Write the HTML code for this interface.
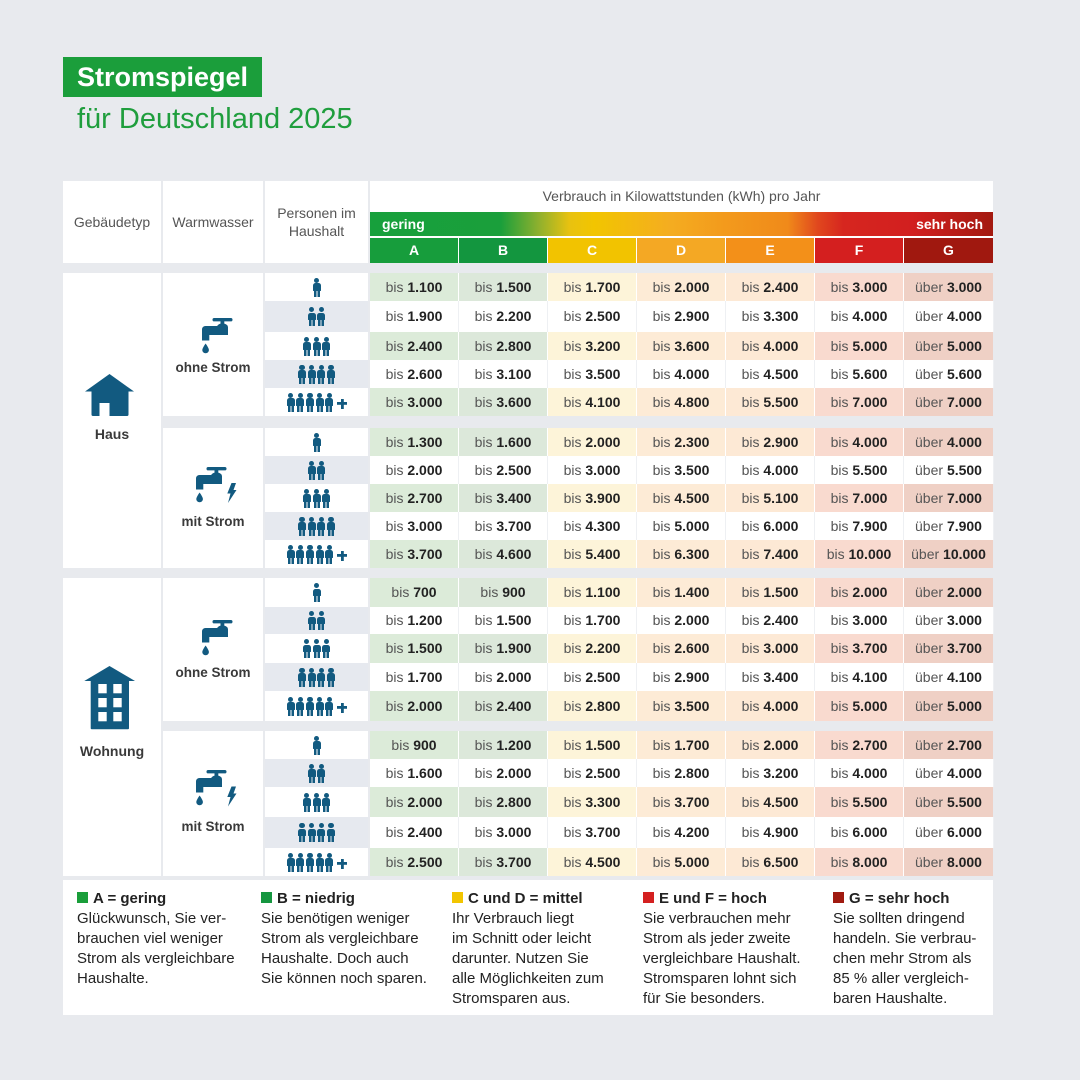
<!DOCTYPE html>
<html lang="de">
<head>
<meta charset="utf-8">
<title>Stromspiegel für Deutschland 2025</title>
<style>
*{box-sizing:border-box}
body{margin:0;width:1080px;height:1080px;background:#e8eaee;position:relative;overflow:hidden;font-family:"Liberation Sans",Arial,sans-serif;}
.a{position:absolute}
.w{background:#fff}
.hd{color:#555;font-size:14px;display:flex;align-items:center;justify-content:center;text-align:center;line-height:18px}
.lt{display:flex;width:623px}
.lt div{width:88px;margin-right:1px;height:25px;line-height:25px;text-align:center;color:#fff;font-weight:bold;font-size:14px}
.lt div:last-child{margin-right:0;width:89px}
.pr{left:265px;width:103px;display:flex;justify-content:center;align-items:center}
.pr.g{background:#e6e9ef}
.pr.wt{background:#fff}
.p{width:8px;height:19px;position:relative;margin:0 0.85px;background:linear-gradient(90deg,transparent 1px,#125a80 1px,#125a80 3.7px,transparent 3.7px,transparent 4.3px,#125a80 4.3px,#125a80 7px,transparent 7px) 0 12px/8px 7px no-repeat}
.p:before{content:"";position:absolute;left:1.4px;top:0;width:5.2px;height:5.2px;border-radius:50%;background:#125a80}
.p:after{content:"";position:absolute;left:0;top:5.8px;width:8px;height:7.4px;border-radius:2.5px 2.5px 0.5px 0.5px;background:#125a80}
.pl{width:10px;height:10px;margin-left:3px;margin-top:3px;background:linear-gradient(#125a80,#125a80) center/10px 2.8px no-repeat,linear-gradient(#125a80,#125a80) center/2.8px 10px no-repeat}
.r{position:absolute;left:370px;width:623px;display:flex;background:#fff}
.r div{width:88px;margin-right:1px;height:100%;text-align:center;font-size:14px;color:#222;white-space:nowrap}
.r div:last-child{margin-right:0;width:89px}
.r:not(.t) div{box-shadow:1px 0 0 #eef0f3}
.r span{color:#555}
.r b{color:#222}
.t div:nth-child(1){background:#dcebd9}
.t div:nth-child(2){background:#dce8da}
.t div:nth-child(3){background:#fdf4d9}
.t div:nth-child(4){background:#fdebd6}
.t div:nth-child(5){background:#fde9d5}
.t div:nth-child(6){background:#f9dacf}
.t div:nth-child(7){background:#efd0c5}
.lbl{font-weight:bold;font-size:13.5px;color:#3a3a3a;text-align:center;line-height:20px;height:20px}
.lg{top:889px;font-size:15px;line-height:20px;color:#222;white-space:nowrap}
.sq{display:inline-block;width:11px;height:11px;margin-right:5px}
</style>
</head>
<body>

<!-- Title -->
<div class="a" style="left:63px;top:57px;width:199px;height:40px;background:#1b9e3b;color:#fff;font-weight:bold;font-size:27px;line-height:40px;padding-left:14px;white-space:nowrap">Stromspiegel</div>
<div class="a" style="left:77px;top:102px;font-size:29px;line-height:34px;color:#1f9e3d;white-space:nowrap">für Deutschland 2025</div>

<!-- Header -->
<div class="a w hd" style="left:63px;top:181px;width:98px;height:82px">Gebäudetyp</div>
<div class="a w hd" style="left:163px;top:181px;width:100px;height:82px">Warmwasser</div>
<div class="a w hd" style="left:265px;top:181px;width:103px;height:82px">Personen im<br>Haushalt</div>
<div class="a w" style="left:370px;top:181px;width:623px;height:82px"></div>
<div class="a hd" style="left:370px;top:181px;width:623px;height:30px;line-height:30px">Verbrauch in Kilowattstunden (kWh) pro Jahr</div>
<div class="a" style="left:370px;top:212px;width:623px;height:24px;background:linear-gradient(90deg,#17a03c 0%,#1a9f3b 21%,#8db02e 27%,#e8c210 32%,#f2c500 36%,#f4ad20 48%,#f39a1c 57%,#f08a1a 67%,#e0461e 72%,#d6261f 76%,#d21f1f 87%,#a31a10 100%)"></div>
<div class="a" style="left:382px;top:212px;height:24px;line-height:24px;color:#fff;font-weight:bold;font-size:14px">gering</div>
<div class="a" style="left:880px;width:103px;top:212px;height:24px;line-height:24px;color:#fff;font-weight:bold;font-size:14px;text-align:right">sehr hoch</div>
<div class="a lt" style="left:370px;top:238px">
<div style="background:#179d3c">A</div><div style="background:#13963f">B</div><div style="background:#f2c300">C</div><div style="background:#f4a824">D</div><div style="background:#f39019">E</div><div style="background:#d41f1f">F</div><div style="background:#a0180f">G</div>
</div>

<!-- Gebäudetyp cells -->
<div class="a w" style="left:63px;top:273px;width:98px;height:295px"></div>
<div class="a w" style="left:63px;top:578px;width:98px;height:298px"></div>
<!-- Warmwasser cells -->
<div class="a w" style="left:163px;top:273px;width:100px;height:143px"></div>
<div class="a w" style="left:163px;top:428px;width:100px;height:140px"></div>
<div class="a w" style="left:163px;top:578px;width:100px;height:143px"></div>
<div class="a w" style="left:163px;top:731px;width:100px;height:145px"></div>

<!-- House icon -->
<svg class="a" style="left:80px;top:370px" width="60" height="50" viewBox="80 370 60 50">
<polygon points="85,391.5 109.5,374 134,391.5" fill="#125a80"/>
<rect x="91.5" y="388" width="37" height="28" rx="1.5" fill="#125a80"/>
<rect x="99.5" y="403" width="10" height="13" fill="#fff"/>
</svg>
<div class="a lbl" style="left:63px;top:424px;width:98px;font-size:14px">Haus</div>

<!-- Building icon -->
<svg class="a" style="left:80px;top:662px" width="60" height="70" viewBox="80 662 60 70">
<polygon points="84.3,681 109.5,666 135,681" fill="#125a80"/>
<rect x="90.7" y="678" width="38.3" height="51.3" rx="1" fill="#125a80"/>
<rect x="98.3" y="684" width="8.4" height="9.3" fill="#fff"/>
<rect x="113.3" y="684" width="8.4" height="9.3" fill="#fff"/>
<rect x="98.3" y="698" width="8.4" height="9.3" fill="#fff"/>
<rect x="113.3" y="698" width="8.4" height="9.3" fill="#fff"/>
<rect x="98.3" y="712" width="8.4" height="9.3" fill="#fff"/>
<rect x="113.3" y="712" width="8.4" height="9.3" fill="#fff"/>
</svg>
<div class="a lbl" style="left:63px;top:741px;width:98px;font-size:14px">Wohnung</div>

<!-- Faucets -->
<svg class="a" style="left:201.7px;top:318.3px" width="32" height="36" viewBox="0 0 32 36" fill="#125a80">
<rect x="10.5" y="0" width="20" height="3.4" rx="1.7"/><rect x="18.5" y="2" width="3.8" height="4.5"/>
<path d="M15,17 L15,9.5 C15,7 17,5.5 20.4,5.5 C23.8,5.5 26,7 26,9.5 L26,17 Z"/>
<path d="M0,22.5 L0,11.5 C0,9.5 1.5,8 3.5,8 L16,8 L16,17 L7.3,17 L7.3,22.5 Z"/>
<path d="M3.6,25.5 C3.6,25.5 0.3,30 0.3,32 C0.3,33.9 1.8,35.2 3.6,35.2 C5.4,35.2 6.9,33.9 6.9,32 C6.9,30 3.6,25.5 3.6,25.5 Z"/>
</svg>
<div class="a lbl" style="left:163px;top:358px;width:100px">ohne Strom</div>

<svg class="a" style="left:196px;top:467px" width="42" height="37" viewBox="0 0 42 37" fill="#125a80">
<rect x="10.5" y="0" width="20" height="3.4" rx="1.7"/><rect x="18.5" y="2" width="3.8" height="4.5"/>
<path d="M15,17 L15,9.5 C15,7 17,5.5 20.4,5.5 C23.8,5.5 26,7 26,9.5 L26,17 Z"/>
<path d="M0,22.5 L0,11.5 C0,9.5 1.5,8 3.5,8 L16,8 L16,17 L7.3,17 L7.3,22.5 Z"/>
<path d="M3.6,25.5 C3.6,25.5 0.3,30 0.3,32 C0.3,33.9 1.8,35.2 3.6,35.2 C5.4,35.2 6.9,33.9 6.9,32 C6.9,30 3.6,25.5 3.6,25.5 Z"/>
<path transform="translate(30.5,16)" d="M5,0 L9.5,0 L7,7 L10,7 L1.5,20 L4,10.5 L0.8,10.5 Z"/>
</svg>
<div class="a lbl" style="left:163px;top:512px;width:100px">mit Strom</div>

<svg class="a" style="left:201.7px;top:620px" width="32" height="36" viewBox="0 0 32 36" fill="#125a80">
<rect x="10.5" y="0" width="20" height="3.4" rx="1.7"/><rect x="18.5" y="2" width="3.8" height="4.5"/>
<path d="M15,17 L15,9.5 C15,7 17,5.5 20.4,5.5 C23.8,5.5 26,7 26,9.5 L26,17 Z"/>
<path d="M0,22.5 L0,11.5 C0,9.5 1.5,8 3.5,8 L16,8 L16,17 L7.3,17 L7.3,22.5 Z"/>
<path d="M3.6,25.5 C3.6,25.5 0.3,30 0.3,32 C0.3,33.9 1.8,35.2 3.6,35.2 C5.4,35.2 6.9,33.9 6.9,32 C6.9,30 3.6,25.5 3.6,25.5 Z"/>
</svg>
<div class="a lbl" style="left:163px;top:663px;width:100px">ohne Strom</div>

<svg class="a" style="left:196px;top:770px" width="42" height="37" viewBox="0 0 42 37" fill="#125a80">
<rect x="10.5" y="0" width="20" height="3.4" rx="1.7"/><rect x="18.5" y="2" width="3.8" height="4.5"/>
<path d="M15,17 L15,9.5 C15,7 17,5.5 20.4,5.5 C23.8,5.5 26,7 26,9.5 L26,17 Z"/>
<path d="M0,22.5 L0,11.5 C0,9.5 1.5,8 3.5,8 L16,8 L16,17 L7.3,17 L7.3,22.5 Z"/>
<path d="M3.6,25.5 C3.6,25.5 0.3,30 0.3,32 C0.3,33.9 1.8,35.2 3.6,35.2 C5.4,35.2 6.9,33.9 6.9,32 C6.9,30 3.6,25.5 3.6,25.5 Z"/>
<path transform="translate(30.5,16.5)" d="M5,0 L9.5,0 L7,7 L10,7 L1.5,20 L4,10.5 L0.8,10.5 Z"/>
</svg>
<div class="a lbl" style="left:163px;top:817px;width:100px">mit Strom</div>

<!-- Persons: Haus ohne -->
<div class="a pr wt" style="top:273px;height:28px"><i class="p"></i></div>
<div class="a pr g" style="top:301px;height:31px"><i class="p"></i><i class="p"></i></div>
<div class="a pr wt" style="top:332px;height:28px"><i class="p"></i><i class="p"></i><i class="p"></i></div>
<div class="a pr g" style="top:360px;height:28px"><i class="p"></i><i class="p"></i><i class="p"></i><i class="p"></i></div>
<div class="a pr wt" style="top:388px;height:28px"><i class="p"></i><i class="p"></i><i class="p"></i><i class="p"></i><i class="p"></i><i class="pl"></i></div>
<!-- Haus mit -->
<div class="a pr wt" style="top:428px;height:28px"><i class="p"></i></div>
<div class="a pr g" style="top:456px;height:28px"><i class="p"></i><i class="p"></i></div>
<div class="a pr wt" style="top:484px;height:28px"><i class="p"></i><i class="p"></i><i class="p"></i></div>
<div class="a pr g" style="top:512px;height:28px"><i class="p"></i><i class="p"></i><i class="p"></i><i class="p"></i></div>
<div class="a pr wt" style="top:540px;height:28px"><i class="p"></i><i class="p"></i><i class="p"></i><i class="p"></i><i class="p"></i><i class="pl"></i></div>
<!-- Wohnung ohne -->
<div class="a pr wt" style="top:578px;height:29px"><i class="p"></i></div>
<div class="a pr g" style="top:607px;height:27px"><i class="p"></i><i class="p"></i></div>
<div class="a pr wt" style="top:634px;height:29px"><i class="p"></i><i class="p"></i><i class="p"></i></div>
<div class="a pr g" style="top:663px;height:28px"><i class="p"></i><i class="p"></i><i class="p"></i><i class="p"></i></div>
<div class="a pr wt" style="top:691px;height:30px"><i class="p"></i><i class="p"></i><i class="p"></i><i class="p"></i><i class="p"></i><i class="pl"></i></div>
<!-- Wohnung mit -->
<div class="a pr wt" style="top:731px;height:28px"><i class="p"></i></div>
<div class="a pr g" style="top:759px;height:28px"><i class="p"></i><i class="p"></i></div>
<div class="a pr wt" style="top:787px;height:30px"><i class="p"></i><i class="p"></i><i class="p"></i></div>
<div class="a pr g" style="top:817px;height:31px"><i class="p"></i><i class="p"></i><i class="p"></i><i class="p"></i></div>
<div class="a pr wt" style="top:848px;height:28px"><i class="p"></i><i class="p"></i><i class="p"></i><i class="p"></i><i class="p"></i><i class="pl"></i></div>

<!-- Values: Haus ohne -->
<div class="r t" style="top:273px;height:28px;line-height:28px"><div><span>bis</span> <b>1.100</b></div><div><span>bis</span> <b>1.500</b></div><div><span>bis</span> <b>1.700</b></div><div><span>bis</span> <b>2.000</b></div><div><span>bis</span> <b>2.400</b></div><div><span>bis</span> <b>3.000</b></div><div><span>über</span> <b>3.000</b></div></div>
<div class="r" style="top:301px;height:31px;line-height:31px"><div><span>bis</span> <b>1.900</b></div><div><span>bis</span> <b>2.200</b></div><div><span>bis</span> <b>2.500</b></div><div><span>bis</span> <b>2.900</b></div><div><span>bis</span> <b>3.300</b></div><div><span>bis</span> <b>4.000</b></div><div><span>über</span> <b>4.000</b></div></div>
<div class="r t" style="top:332px;height:28px;line-height:28px"><div><span>bis</span> <b>2.400</b></div><div><span>bis</span> <b>2.800</b></div><div><span>bis</span> <b>3.200</b></div><div><span>bis</span> <b>3.600</b></div><div><span>bis</span> <b>4.000</b></div><div><span>bis</span> <b>5.000</b></div><div><span>über</span> <b>5.000</b></div></div>
<div class="r" style="top:360px;height:28px;line-height:28px"><div><span>bis</span> <b>2.600</b></div><div><span>bis</span> <b>3.100</b></div><div><span>bis</span> <b>3.500</b></div><div><span>bis</span> <b>4.000</b></div><div><span>bis</span> <b>4.500</b></div><div><span>bis</span> <b>5.600</b></div><div><span>über</span> <b>5.600</b></div></div>
<div class="r t" style="top:388px;height:28px;line-height:28px"><div><span>bis</span> <b>3.000</b></div><div><span>bis</span> <b>3.600</b></div><div><span>bis</span> <b>4.100</b></div><div><span>bis</span> <b>4.800</b></div><div><span>bis</span> <b>5.500</b></div><div><span>bis</span> <b>7.000</b></div><div><span>über</span> <b>7.000</b></div></div>
<!-- Haus mit -->
<div class="r t" style="top:428px;height:28px;line-height:28px"><div><span>bis</span> <b>1.300</b></div><div><span>bis</span> <b>1.600</b></div><div><span>bis</span> <b>2.000</b></div><div><span>bis</span> <b>2.300</b></div><div><span>bis</span> <b>2.900</b></div><div><span>bis</span> <b>4.000</b></div><div><span>über</span> <b>4.000</b></div></div>
<div class="r" style="top:456px;height:28px;line-height:28px"><div><span>bis</span> <b>2.000</b></div><div><span>bis</span> <b>2.500</b></div><div><span>bis</span> <b>3.000</b></div><div><span>bis</span> <b>3.500</b></div><div><span>bis</span> <b>4.000</b></div><div><span>bis</span> <b>5.500</b></div><div><span>über</span> <b>5.500</b></div></div>
<div class="r t" style="top:484px;height:28px;line-height:28px"><div><span>bis</span> <b>2.700</b></div><div><span>bis</span> <b>3.400</b></div><div><span>bis</span> <b>3.900</b></div><div><span>bis</span> <b>4.500</b></div><div><span>bis</span> <b>5.100</b></div><div><span>bis</span> <b>7.000</b></div><div><span>über</span> <b>7.000</b></div></div>
<div class="r" style="top:512px;height:28px;line-height:28px"><div><span>bis</span> <b>3.000</b></div><div><span>bis</span> <b>3.700</b></div><div><span>bis</span> <b>4.300</b></div><div><span>bis</span> <b>5.000</b></div><div><span>bis</span> <b>6.000</b></div><div><span>bis</span> <b>7.900</b></div><div><span>über</span> <b>7.900</b></div></div>
<div class="r t" style="top:540px;height:28px;line-height:28px"><div><span>bis</span> <b>3.700</b></div><div><span>bis</span> <b>4.600</b></div><div><span>bis</span> <b>5.400</b></div><div><span>bis</span> <b>6.300</b></div><div><span>bis</span> <b>7.400</b></div><div><span>bis</span> <b>10.000</b></div><div><span>über</span> <b>10.000</b></div></div>
<!-- Wohnung ohne -->
<div class="r t" style="top:578px;height:29px;line-height:29px"><div><span>bis</span> <b>700</b></div><div><span>bis</span> <b>900</b></div><div><span>bis</span> <b>1.100</b></div><div><span>bis</span> <b>1.400</b></div><div><span>bis</span> <b>1.500</b></div><div><span>bis</span> <b>2.000</b></div><div><span>über</span> <b>2.000</b></div></div>
<div class="r" style="top:607px;height:27px;line-height:27px"><div><span>bis</span> <b>1.200</b></div><div><span>bis</span> <b>1.500</b></div><div><span>bis</span> <b>1.700</b></div><div><span>bis</span> <b>2.000</b></div><div><span>bis</span> <b>2.400</b></div><div><span>bis</span> <b>3.000</b></div><div><span>über</span> <b>3.000</b></div></div>
<div class="r t" style="top:634px;height:29px;line-height:29px"><div><span>bis</span> <b>1.500</b></div><div><span>bis</span> <b>1.900</b></div><div><span>bis</span> <b>2.200</b></div><div><span>bis</span> <b>2.600</b></div><div><span>bis</span> <b>3.000</b></div><div><span>bis</span> <b>3.700</b></div><div><span>über</span> <b>3.700</b></div></div>
<div class="r" style="top:663px;height:28px;line-height:28px"><div><span>bis</span> <b>1.700</b></div><div><span>bis</span> <b>2.000</b></div><div><span>bis</span> <b>2.500</b></div><div><span>bis</span> <b>2.900</b></div><div><span>bis</span> <b>3.400</b></div><div><span>bis</span> <b>4.100</b></div><div><span>über</span> <b>4.100</b></div></div>
<div class="r t" style="top:691px;height:30px;line-height:30px"><div><span>bis</span> <b>2.000</b></div><div><span>bis</span> <b>2.400</b></div><div><span>bis</span> <b>2.800</b></div><div><span>bis</span> <b>3.500</b></div><div><span>bis</span> <b>4.000</b></div><div><span>bis</span> <b>5.000</b></div><div><span>über</span> <b>5.000</b></div></div>
<!-- Wohnung mit -->
<div class="r t" style="top:731px;height:28px;line-height:28px"><div><span>bis</span> <b>900</b></div><div><span>bis</span> <b>1.200</b></div><div><span>bis</span> <b>1.500</b></div><div><span>bis</span> <b>1.700</b></div><div><span>bis</span> <b>2.000</b></div><div><span>bis</span> <b>2.700</b></div><div><span>über</span> <b>2.700</b></div></div>
<div class="r" style="top:759px;height:28px;line-height:28px"><div><span>bis</span> <b>1.600</b></div><div><span>bis</span> <b>2.000</b></div><div><span>bis</span> <b>2.500</b></div><div><span>bis</span> <b>2.800</b></div><div><span>bis</span> <b>3.200</b></div><div><span>bis</span> <b>4.000</b></div><div><span>über</span> <b>4.000</b></div></div>
<div class="r t" style="top:787px;height:30px;line-height:30px"><div><span>bis</span> <b>2.000</b></div><div><span>bis</span> <b>2.800</b></div><div><span>bis</span> <b>3.300</b></div><div><span>bis</span> <b>3.700</b></div><div><span>bis</span> <b>4.500</b></div><div><span>bis</span> <b>5.500</b></div><div><span>über</span> <b>5.500</b></div></div>
<div class="r" style="top:817px;height:31px;line-height:31px"><div><span>bis</span> <b>2.400</b></div><div><span>bis</span> <b>3.000</b></div><div><span>bis</span> <b>3.700</b></div><div><span>bis</span> <b>4.200</b></div><div><span>bis</span> <b>4.900</b></div><div><span>bis</span> <b>6.000</b></div><div><span>über</span> <b>6.000</b></div></div>
<div class="r t" style="top:848px;height:28px;line-height:28px"><div><span>bis</span> <b>2.500</b></div><div><span>bis</span> <b>3.700</b></div><div><span>bis</span> <b>4.500</b></div><div><span>bis</span> <b>5.000</b></div><div><span>bis</span> <b>6.500</b></div><div><span>bis</span> <b>8.000</b></div><div><span>über</span> <b>8.000</b></div></div>

<!-- Legend -->
<div class="a w" style="left:63px;top:880px;width:930px;height:135px"></div>
<div class="a lg" style="left:77px"><i class="sq" style="background:#1a9e3a"></i><b>A = gering</b><br>Glückwunsch, Sie ver-<br>brauchen viel weniger<br>Strom als vergleichbare<br>Haushalte.</div>
<div class="a lg" style="left:261px"><i class="sq" style="background:#159640"></i><b>B = niedrig</b><br>Sie benötigen weniger<br>Strom als vergleichbare<br>Haushalte. Doch auch<br>Sie können noch sparen.</div>
<div class="a lg" style="left:452px"><i class="sq" style="background:#f2c500"></i><b>C und D = mittel</b><br>Ihr Verbrauch liegt<br>im Schnitt oder leicht<br>darunter. Nutzen Sie<br>alle Möglichkeiten zum<br>Stromsparen aus.</div>
<div class="a lg" style="left:643px"><i class="sq" style="background:#d42020"></i><b>E und F = hoch</b><br>Sie verbrauchen mehr<br>Strom als jeder zweite<br>vergleichbare Haushalt.<br>Stromsparen lohnt sich<br>für Sie besonders.</div>
<div class="a lg" style="left:833px"><i class="sq" style="background:#a01a10"></i><b>G = sehr hoch</b><br>Sie sollten dringend<br>handeln. Sie verbrau-<br>chen mehr Strom als<br>85 % aller vergleich-<br>baren Haushalte.</div>

</body>
</html>
